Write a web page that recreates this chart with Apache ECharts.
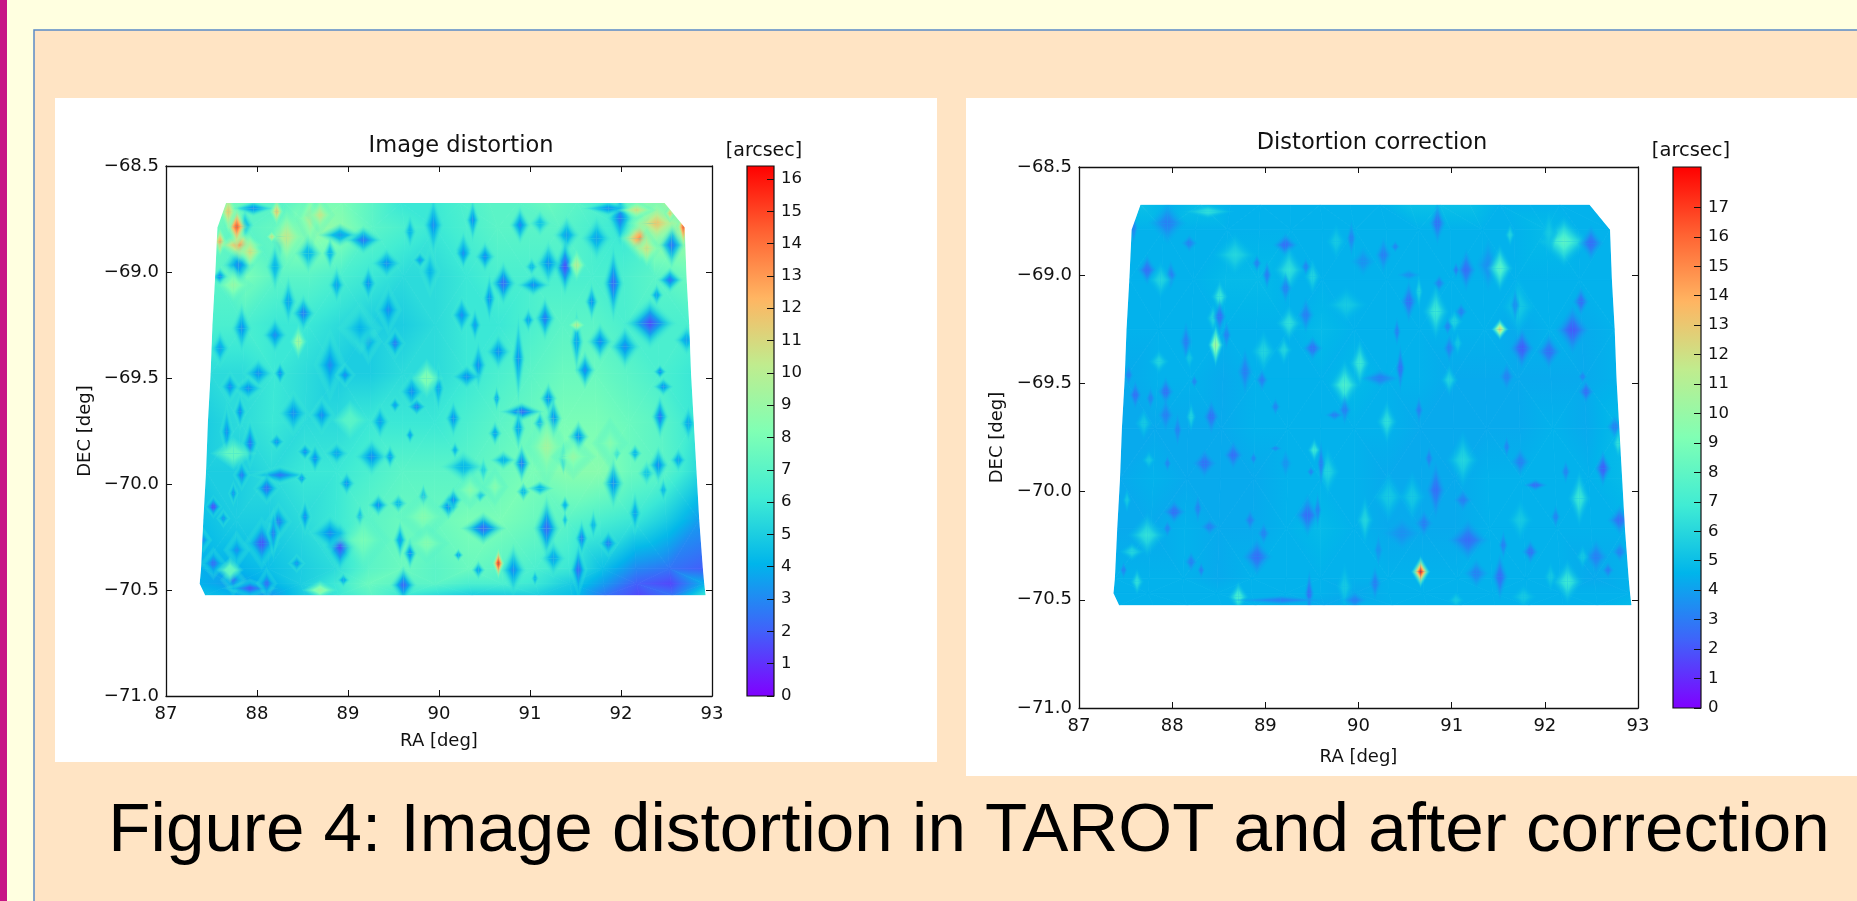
<!DOCTYPE html>
<html><head><meta charset="utf-8">
<style>html,body{margin:0;padding:0;background:#ffffe0;overflow:hidden}#c{width:1857px;height:901px;filter:blur(0.5px)}</style>
<script src="https://cdn.jsdelivr.net/npm/echarts@6/dist/echarts.min.js"></script>
</head><body><div id="c"></div>
<script>
const raTicks = [87, 88, 89, 90, 91, 92, 93];
const decRange = [-71, -68.5];
const barTicksLeft = [0,1,2,3,4,5,6,7,8,9,10,11,12,13,14,15,16];
const barTicksRight = [0,1,2,3,4,5,6,7,8,9,10,11,12,13,14,15,16,17];
const scaleMaxLeft = 16.4;
const scaleMaxRight = 18.37;
const rainbow = ['#8000ff','#4062fa','#00b5eb','#40ecd4','#80ffb4','#c0ec8e','#ffb562','#ff6232','#ff0000'];

// Field outline, row by row (deg)
const decRows = [-68.675,-68.79,-69.02,-69.25,-69.48,-69.71,-69.94,-70.17,-70.40,-70.47,-70.525];
const raLeft  = [87.66,87.565,87.54,87.51,87.49,87.46,87.44,87.41,87.385,87.37,87.43];
const raRight = [92.48,92.70,92.72,92.75,92.77,92.80,92.83,92.86,92.90,92.915,92.93];

// Large-scale background level of each field (arcsec)
const distortionBase = [
[8,7,7,8,8,7,6,6,6.5,7,7,7.5,7,6,8,9],
[7.5,7,7.5,9,8.5,7,6.5,6,6.5,7,7,7,6.5,6,9.5,9.5],
[7,8,7,7,6.5,6,5.5,5.5,6,6.5,6.5,6.5,6.5,6.5,7,7.5],
[6.5,6.5,6,6,5.5,5,5,5.5,6,6,6.5,7,7,6.5,6.5,6.5],
[5.5,5.5,6,5.5,5,5,5.5,5.5,6,6.5,7,7.5,7.5,7,6.5,6],
[5,5.5,6,5.5,5.5,6,6,6,6.5,7,7.5,8,8,7.5,7,6],
[5,5,5.5,6,6,6.5,7,7,7,7.5,8,8.5,8.5,7.5,7,5.5],
[4.5,5,5,5.5,6,7,7.5,7.5,8,8,7.5,7,6.5,6,5,3.5],
[4,4,4.5,5,5.5,7,7.5,7,7.5,7,6.5,6,4.5,3,2.5,2],
[4,3.5,4,5,6,7.5,7,7,6.5,6.5,6,5,3.5,2,1.5,4],
[4.5,4,3.5,5,6,7,6,5.5,5,5,5,4.5,2.5,1.5,2.5,6]
];
const correctionBase = [
[5,4.5,5,4.5,4.5,4.5,4.5,4.5,4.5,5,5,5,4.5,4.5,4.5,4.5],
[4.5,4.5,4.5,4.5,4.5,4.5,4.5,4.5,4.5,4.5,4.5,4.5,4.5,4.8,4.5,4.5],
[4.5,4.5,4.5,4.8,4.8,4.5,4.5,4.5,4.5,4.5,4.5,4.5,4.5,4.5,4.5,4.5],
[4.5,4.5,4.5,4.5,4.5,4.5,4.8,4.5,4.5,4.5,4.5,4.5,4.3,4.5,4.3,4.5],
[4.3,4.5,4.5,4.3,4.5,4.5,4.5,4.8,4.5,4.5,4.3,4.3,4.3,4.3,4.3,4.5],
[4.3,4.3,4.3,4.3,4.5,4.5,4.5,4.5,4.5,4.3,4.3,4.3,4.3,4.5,4.3,4.8],
[4.3,4.5,4.3,4.3,4.3,4.5,4.5,4.5,4.3,4.3,4.3,4.5,4.5,4.5,4.5,4.8],
[4.3,4.3,4.5,4.3,4.3,4.5,4.8,4.5,4.3,4.3,4.3,4.5,4.5,4.5,4.5,4.5],
[4.5,4.5,4.5,4.3,4.5,4.5,4.5,4.5,4.5,4.5,4.5,4.5,4.5,4.5,4.3,4.5],
[4.5,4.5,4.5,4.5,4.5,4.5,4.5,4.3,4.5,4.5,4.5,4.5,4.5,4.5,4.5,4.5],
[4.5,4.5,4.5,4.5,4.5,4.5,4.3,4.5,4.5,4.5,4.5,4.5,4.5,4.5,4.5,4.8]
];
const backgroundLeft = 6.5;
const backgroundRight = 4.5;

// Local features, one list per read-off tile: [u, v, arcsec, halfU, halfV]
// RA = raZero + u/raScale, DEC = decZero - v/decScale
const tileLeftNW = {raZero:87.374,decZero:-68.637,raScale:273,decScale:636};
const tileLeftNE = {raZero:90.121,decZero:-68.637,raScale:273,decScale:636};
const tileLeftSW = {raZero:87.264,decZero:-69.604,raScale:273,decScale:636};
const tileLeftSE = {raZero:90.121,decZero:-69.604,raScale:273,decScale:636};
const tileRightN = {raZero:87.333,decZero:-68.629,raScale:276,decScale:649};
const tileRightS = {raZero:87.279,decZero:-69.577,raScale:276,decScale:649};

const spotsLeftNW = [
[115,210,3,18,35],[60,245,3,10,15],[135,90,4,10,25],[160,40,3,25,12],[240,140,4,10,25],[225,215,4,10,40],[325,175,4,15,30],[420,120,3.5,25,18],[490,135,2.5,22,22],[390,175,4,8,25],[630,110,4,8,30],[560,205,3,18,25],[660,195,3.5,10,15],[700,90,3,12,50],[790,165,3,10,30],[505,265,3,10,30],[410,270,3.5,10,30],[265,320,3.5,10,40],[310,355,2.5,14,30],[565,345,3,15,40],[125,400,3,12,40],[225,420,3,15,30],[585,445,2.5,12,25],[505,440,3.5,15,35],[690,230,4,12,40],[785,360,3.5,12,30],[175,535,3,18,25],[240,535,3,8,20],[390,510,3,18,55],[435,540,3,12,20],[145,580,3,18,20],[60,460,3.5,12,30],[90,575,3,12,25],[635,590,3,15,30],[480,400,4,25,40],[715,580,3.5,8,40],
[295,440,9.5,9,22],[680,550,8.5,18,30],[100,270,9,22,30],[60,140,13,8,20],[120,150,13,25,22],[110,95,15,12,28],[85,50,12,10,30],[230,50,12,8,20],[260,125,10.5,22,40],[330,70,10,15,40],[360,60,10.5,15,25],[150,170,11,15,25],[215,125,11,6,8]
];
const spotsLeftNE = [
[68,75,3,8,35],[40,175,3,10,25],[105,185,3,12,25],[210,90,3,12,30],[270,85,4.5,12,20],[350,120,3.5,15,30],[440,130,3.5,18,35],[510,70,2.5,15,45],[475,40,3,30,12],[345,215,1.5,14,45],[295,205,3,15,35],[250,270,3,20,18],[245,215,4,8,15],[160,265,2,15,35],[118,310,3,8,40],[490,265,2,12,60],[425,320,3,8,30],[285,370,2.5,12,35],[235,375,3.5,8,20],[35,360,3,12,30],[75,390,3.5,8,30],[145,470,3,15,30],[205,490,3,8,70],[85,510,3,10,40],[50,545,3,18,20],[380,440,3.5,8,50],[405,525,3,12,30],[450,440,3,15,30],[525,455,3,18,35],[600,385,1.5,30,40],[660,255,2.5,15,20],[665,150,2.5,15,35],[620,300,3.5,8,18],[710,435,3.5,15,25],[630,530,3,8,12],[640,575,3,12,15],[140,610,3.5,5,20],[295,610,3,10,25],[595,85,4.5,10,10],
[570,130,13.5,22,30],[620,85,12,30,30],[660,55,12,6,12],[700,95,15,7,30],[380,210,10,10,22],[380,390,10,10,10],[560,45,11,20,12],[590,160,11,15,25]
];
const spotsLeftSW = [
[310,40,3,18,35],[395,45,3,15,30],[680,20,2.5,12,15],[615,15,3.5,8,15],[570,65,3.5,12,30],[110,95,3,8,45],[150,35,3,8,30],[260,125,3,10,15],[660,105,3.5,6,15],[180,130,2.5,10,40],[345,155,3,10,15],[440,160,3.5,15,20],[375,175,3,10,25],[545,170,3,20,30],[600,170,3.5,8,20],[155,225,2.5,10,25],[270,225,2.5,35,15],[230,265,2,15,25],[470,250,3,10,20],[335,235,3,7,12],[70,320,1,10,18],[130,280,3,6,20],[565,315,3,12,18],[625,310,4,10,15],[700,290,3.5,6,20],[775,320,3,12,20],[345,350,3,8,30],[265,365,2.5,15,30],[215,430,1.5,20,40],[250,400,2.5,8,40],[100,355,3,8,15],[140,450,3,15,30],[450,440,1.5,20,40],[510,350,3.5,6,20],[420,400,3,25,30],[660,460,3,8,25],[630,420,3.5,8,30],[70,490,2,15,25],[40,420,3,10,20],[320,490,3,10,15],[130,540,2.5,15,25],[180,565,1.5,30,15],[230,550,2,12,25],[640,555,2,15,30],[460,540,3.5,8,12],
[700,350,8.5,30,40],[710,430,8.5,25,30],[520,420,8,30,50],[390,570,9,20,15],[120,510,7.5,15,20],[130,160,7.5,25,25],[480,60,7,20,30]
];
const spotsLeftSE = [
[10,55,3,10,30],[215,35,2,25,15],[205,85,3.5,8,35],[135,100,3.5,8,20],[310,55,3,10,35],[270,70,3.5,8,20],[385,110,3,12,25],[630,50,2.5,10,35],[715,70,3.5,10,30],[215,190,2.5,10,30],[160,180,4,15,15],[340,175,4,6,25],[40,200,4,25,25],[100,210,5,6,20],[15,150,4,6,15],[555,160,4,8,15],[500,160,5,5,12],[625,195,3,12,30],[685,180,3.5,10,20],[490,250,3,12,40],[590,220,4.5,10,20],[640,270,4,6,20],[10,300,3,10,20],[90,285,4,8,12],[220,275,4,8,15],[270,265,4,15,12],[345,315,4,6,15],[555,340,3.5,8,35],[100,385,2,25,25],[290,385,2,15,50],[345,360,4.5,4,15],[395,415,2.5,8,30],[430,375,4,6,25],[475,430,2.5,12,22],[25,465,3.5,6,10],[85,510,3.5,8,15],[190,510,3,15,40],[310,475,3.5,15,30],[385,510,2,10,45],[255,535,4,5,15],
[60,270,8.5,20,30],[135,260,8.5,15,30],[290,140,9.5,22,50],[370,170,9,25,35],[480,130,8.5,20,40],[145,490,16,16,42]
];
const spotsRightN = [
[110,225,2.5,12,25],[170,85,3,22,35],[235,145,3,10,15],[180,240,3,8,25],[70,100,3,5,30],[290,50,6.5,30,12],[325,305,7,10,28],[313,450,11,8,28],[305,370,6,8,25],[325,365,2.5,8,28],[150,255,6,15,30],[370,180,6,25,35],[520,150,2.5,15,20],[435,205,3,6,15],[465,240,3,6,25],[530,225,6.5,18,40],[520,280,3,8,25],[600,245,6,10,30],[580,215,3,6,15],[580,360,3,10,30],[530,385,6.5,15,30],[600,460,2.5,12,20],[515,465,6,10,25],[455,470,6,15,35],[400,530,3,10,40],[450,555,3,8,20],[345,420,3,6,25],[225,440,3,8,35],[145,500,6,12,20],[165,590,2.5,10,25],[75,600,2.5,8,25],[120,610,3,6,20],[55,540,3,6,20],[235,490,5.5,6,18],[250,560,3,5,12],[715,130,3,6,30],[810,180,3,10,30],[845,155,3,6,10],[750,200,3.5,15,25],[670,140,5.5,12,30],[885,320,2.5,10,35],[850,410,3,5,25],[915,290,6,5,30],[965,350,7,15,45],[1020,380,6,10,20],[1005,460,3,8,25],[1030,445,5.5,6,20],[970,85,2.5,10,35],[1055,225,2.5,12,35],[975,265,3,8,15],[1025,225,3,5,15],[1120,210,3.5,15,45],[1155,220,8,15,38],[1155,403,13,9,14],[1220,460,2,15,35],[1300,470,2.5,15,30],[1370,405,2,20,40],[1395,320,2.5,10,25],[1345,140,8,30,40],[1425,145,2.5,15,30],[1185,120,6,6,20],[1210,335,5.5,20,50],[1200,330,3.5,6,30],[1410,590,2.5,10,20],[1400,545,3,6,12],[1005,555,6,10,25],[860,520,2.5,6,40],[800,550,3,25,15],[740,505,7,12,40],[695,570,7.5,18,40],[1175,545,3,10,25],[1040,350,3,8,15],[1000,395,3,6,15],[1300,115,5.5,10,40],[700,330,5.5,25,30],[885,240,3.5,15,10]
];
const spotsRightS = [
[180,45,3,10,30],[315,50,2.5,10,30],[215,90,3,6,30],[255,50,6,6,25],[115,70,5.5,10,25],[505,20,3,6,15],[710,30,3,8,25],[680,45,3,12,10],[835,65,6.5,12,35],[930,30,3,6,25],[1510,80,3,10,20],[1520,130,6.5,7,25],[380,165,2.5,12,25],[505,145,3,8,6],[620,150,7,8,20],[295,190,2.5,15,25],[130,180,5.5,8,15],[185,190,3,5,15],[440,175,3,5,12],[535,190,3.5,8,25],[660,215,6,14,40],[610,215,3,5,10],[640,190,3,5,40],[960,175,3,6,22],[1060,180,6,18,45],[1190,140,3,5,20],[1230,185,3,12,25],[1475,205,2,10,30],[1365,215,3,6,20],[1275,255,2.5,15,10],[980,270,2.5,12,50],[840,290,5.5,18,40],[910,290,5.5,15,40],[1060,300,3,12,20],[1405,295,7,13,45],[1335,350,3,6,20],[1230,360,5.5,15,35],[600,345,2.5,15,35],[630,330,3,5,30],[205,335,2.5,14,20],[430,360,3,8,20],[275,325,3,6,25],[310,380,3,12,15],[125,405,6.5,22,35],[185,385,3,6,15],[80,455,6,15,15],[65,300,5.5,5,20],[450,470,2.5,18,32],[470,400,3,8,20],[880,400,3.5,25,30],[945,370,3,12,25],[1075,420,2.5,25,35],[1180,435,3,6,25],[1260,455,2.5,10,20],[1170,530,2.5,10,40],[1370,545,7,18,35],[1455,470,3,15,30],[1525,455,3,10,18],[1490,510,3,8,15],[1525,360,2.5,15,25],[810,450,3.5,6,30],[255,485,3,8,18],[285,510,3,5,15],[55,510,3,5,15],[95,545,6.5,8,22],[395,590,7.5,12,25],[605,580,2.5,6,40],[520,600,3,60,8],[710,560,5.5,10,40],[740,600,3,15,15],[800,550,3,8,30],[1240,590,5.5,15,20],[1100,520,3,15,25],[1415,470,5.5,8,20],[770,360,6,10,40],[1040,600,5.5,10,15],[1320,530,5.5,8,25],[935,515,18.2,24,42]
];

function hexToRgb(h){return [parseInt(h.substr(1,2),16),parseInt(h.substr(3,2),16),parseInt(h.substr(5,2),16)];}
const rainbowRgb = rainbow.map(hexToRgb);
function colorAt(t,alpha){
  t=Math.max(0,Math.min(1,t));
  const p=t*(rainbow.length-1), i=Math.min(rainbow.length-2,Math.floor(p)), f=p-i;
  const a=rainbowRgb[i], b=rainbowRgb[i+1];
  const rgb=a.map((c,k)=>Math.round(c+(b[k]-c)*f)).join(',');
  return alpha===undefined?'rgb('+rgb+')':'rgba('+rgb+','+alpha+')';
}

function buildTriangles(values){
  const rows=[];
  const nc=values[0].length-1;
  const vtx=(r,c)=>[raLeft[r]+(raRight[r]-raLeft[r])*c/nc, decRows[r], values[r][c]];
  for(let r=0;r<values.length-1;r++){
    for(let c=0;c<nc;c++){
      const a=vtx(r,c),b=vtx(r,c+1),d=vtx(r+1,c),e=vtx(r+1,c+1);
      if((r+c)%2===0){rows.push([...a,...b,...e]);rows.push([...a,...e,...d]);}
      else{rows.push([...a,...b,...d]);rows.push([...b,...e,...d]);}
    }
  }
  return rows;
}
function meshRender(vmax){
  return function(params,api){
    const v=[0,3,6].map(k=>({p:api.coord([api.value(k),api.value(k+1)]),v:api.value(k+2)}));
    const [A,B,C]=v;
    const ux=B.p[0]-A.p[0],uy=B.p[1]-A.p[1],wx=C.p[0]-A.p[0],wy=C.p[1]-A.p[1];
    const du=B.v-A.v,dw=C.v-A.v,det=ux*wy-uy*wx;
    const lo=Math.min(A.v,B.v,C.v),hi=Math.max(A.v,B.v,C.v);
    let paint;
    if(hi-lo<1e-6||Math.abs(det)<1e-6){paint=colorAt(lo/vmax);}
    else{
      const gx=(du*wy-dw*uy)/det,gy=(dw*ux-du*wx)/det,g2=gx*gx+gy*gy;
      const s=v.find(o=>o.v===lo).p;
      const L=(hi-lo)/g2;
      const stops=[];
      const n=Math.max(2,Math.ceil((hi-lo)/vmax*16));
      for(let i=0;i<=n;i++){stops.push({offset:i/n,color:colorAt((lo+(hi-lo)*i/n)/vmax)});}
      paint=new echarts.graphic.LinearGradient(s[0],s[1],s[0]+gx*L,s[1]+gy*L,stops,true);
    }
    return {type:'polygon',shape:{points:v.map(o=>o.p)},style:{fill:paint,stroke:paint,lineWidth:0.8},silent:true};
  };
}
// The read-off half-sizes gave the dark core only; a feature's footprint is larger, and wider still.
function spotRows(tile,list){
  return list.map(s=>{
    const peak=s[2]>=15.5;
    const warm=s[2]>=9.5;
    const growU=peak?1.3:(warm?3.2:2.9);
    const growV=peak?1.25:(warm?2.6:2.1);
    return [tile.raZero+s[0]/tile.raScale, tile.decZero-s[1]/tile.decScale, s[2], growU*s[3]/tile.raScale, growV*s[4]/tile.decScale];
  });
}
function spotRender(vmax,base){
  return function(params,api){
    const ra=api.value(0),dec=api.value(1),val=api.value(2),hr=api.value(3),hd=api.value(4);
    const c=api.coord([ra,dec]);
    const ring=[api.coord([ra,dec+hd]),api.coord([ra+hr,dec]),api.coord([ra,dec-hd]),api.coord([ra-hr,dec])];
    const n=Math.max(3,Math.ceil(Math.abs(val-base)/vmax*16));
    const stops=[];
    for(let i=0;i<=n;i++){
      const t=i/n;
      stops.push({offset:t,color:colorAt((val+(base-val)*t)/vmax,Math.min(1,(1-t)*1.6))});
    }
    const children=[];
    for(let i=0;i<4;i++){
      const p=ring[i],q=ring[(i+1)%4];
      const dx=q[0]-p[0],dy=q[1]-p[1],u=((c[0]-p[0])*dx+(c[1]-p[1])*dy)/(dx*dx+dy*dy);
      const fx=p[0]+u*dx,fy=p[1]+u*dy;
      children.push({type:'polygon',shape:{points:[c,p,q]},silent:true,
        style:{fill:new echarts.graphic.LinearGradient(c[0],c[1],fx,fy,stops,true)}});
    }
    return {type:'group',children};
  };
}
function maskRender(params,api){
  const cs=params.coordSys;
  const outline=[];
  decRows.forEach((d,i)=>outline.push(api.coord([raLeft[i],d])));
  for(let i=decRows.length-1;i>=0;i--){outline.push(api.coord([raRight[i],decRows[i]]));}
  const first=outline[0];
  const x0=cs.x,y0=cs.y,x1=cs.x+cs.width,y1=cs.y+cs.height;
  const pts=[[first[0],y0],...outline,first,[first[0],y0],[x1,y0],[x1,y1],[x0,y1],[x0,y0]];
  return {type:'polygon',shape:{points:pts},style:{fill:'#ffffff'},silent:true};
}
function barRender(params,api){
  const p0=api.coord([0,0]),p1=api.coord([1,api.value(0)]);
  return {type:'rect',shape:{x:p0[0],y:p1[1],width:p1[0]-p0[0],height:p0[1]-p1[1]},
    style:{fill:new echarts.graphic.LinearGradient(0,1,0,0,rainbow.map((c,i)=>({offset:i/(rainbow.length-1),color:c}))),stroke:'#111',lineWidth:1.2},silent:true};
}

const FONT='"DejaVu Sans"';
const tick={show:true,inside:true,length:6,lineStyle:{color:'#111',width:1}};
const line={show:true,onZero:false,lineStyle:{color:'#111',width:1.3}};
const label={color:'#111',fontFamily:FONT,fontSize:18};
const minus=s=>String(s).replace('-','\u2212');

function mainAxes(gi,xGap,yGap){
  const x=[{gridIndex:gi,type:'value',min:raTicks[0],max:raTicks[raTicks.length-1],interval:1,position:'bottom',
      name:'RA [deg]',nameLocation:'middle',nameGap:xGap,nameTextStyle:{...label},
      axisLine:line,axisTick:tick,axisLabel:{...label,margin:9},splitLine:{show:false},z:5},
    {gridIndex:gi,type:'value',min:raTicks[0],max:raTicks[raTicks.length-1],interval:1,position:'top',
      axisLine:line,axisTick:tick,axisLabel:{show:false},splitLine:{show:false},z:5}];
  const y=[{gridIndex:gi,type:'value',min:decRange[0],max:decRange[1],interval:0.5,position:'left',
      name:'DEC [deg]',nameLocation:'middle',nameGap:yGap,nameTextStyle:{...label},
      axisLine:line,axisTick:tick,axisLabel:{...label,margin:7,formatter:v=>minus(v.toFixed(1))},splitLine:{show:false},z:5},
    {gridIndex:gi,type:'value',min:decRange[0],max:decRange[1],interval:0.5,position:'right',
      axisLine:line,axisTick:tick,axisLabel:{show:false},splitLine:{show:false},z:5}];
  return {x,y};
}
function barAxes(gi,vmax,ticks){
  return {
    x:{gridIndex:gi,type:'value',min:0,max:1,show:false},
    y:{gridIndex:gi,type:'value',min:0,max:vmax,position:'right',
      axisLine:{show:false,onZero:false},
      axisTick:{...tick,length:7,customValues:ticks},
      axisLabel:{...label,fontSize:16.5,margin:7,customValues:ticks},
      splitLine:{show:false},z:5}
  };
}
const mL=mainAxes(0,36,72),bL=barAxes(1,scaleMaxLeft,barTicksLeft),mR=mainAxes(2,40,73),bR=barAxes(3,scaleMaxRight,barTicksRight);

function ttl(text,x,y,size,extra){
  return {text,left:x,top:y,textAlign:'center',textVerticalAlign:'middle',padding:0,
    textStyle:Object.assign({color:'#111',fontFamily:FONT,fontSize:size,fontWeight:'normal'},extra||{})};
}
const bgRect=(x,y,w,h,fill,extra)=>({type:'rect',z:-10,silent:true,shape:{x,y,width:w,height:h},style:Object.assign({fill},extra||{})});
const fieldSeries=(ax,base,spots,vmax,bg)=>[
  {type:'custom',xAxisIndex:ax,yAxisIndex:ax,data:buildTriangles(base),renderItem:meshRender(vmax),encode:{x:0,y:1},progressive:0,clip:true,z:2},
  {type:'custom',xAxisIndex:ax,yAxisIndex:ax,data:spots,renderItem:spotRender(vmax,bg),encode:{x:0,y:1},progressive:0,clip:true,z:3},
  {type:'custom',xAxisIndex:ax,yAxisIndex:ax,data:[[raTicks[0],decRange[0]]],renderItem:maskRender,encode:{x:0,y:1},z:4}
];

const chart=echarts.init(document.getElementById('c'),null,{renderer:'canvas',width:1857,height:901});
chart.setOption({
  animation:false,
  backgroundColor:'#ffffe0',
  graphic:{elements:[
    bgRect(0,0,7,901,'#c71585'),
    bgRect(34,30,1900,950,'#ffe4c4',{stroke:'#5b8ac6',lineWidth:1.5}),
    bgRect(55,98,882,664,'#ffffff'),
    bgRect(966,98,900,678,'#ffffff')
  ]},
  title:[
    ttl('Image distortion',461,146,22.5),
    ttl('[arcsec]',764,151,19),
    ttl('Distortion correction',1372,143,22.5),
    ttl('[arcsec]',1691,151,19.5),
    {text:'Figure 4: Image distortion in TAROT and after correction',left:969,top:832,textAlign:'center',textVerticalAlign:'middle',padding:0,
     textStyle:{color:'#000',fontFamily:'"Liberation Sans"',fontSize:69.2,fontWeight:'normal'}}
  ],
  grid:[
    {left:166,top:166,width:546,height:530,show:false},
    {left:747,top:166,width:27,height:530,show:false},
    {left:1079,top:167,width:559,height:541,show:false},
    {left:1673,top:167,width:28,height:541,show:false}
  ],
  xAxis:[...mL.x,bL.x,...mR.x,bR.x],
  yAxis:[...mL.y,bL.y,...mR.y,bR.y],
  series:[
    ...fieldSeries(0,distortionBase,[...spotRows(tileLeftNW,spotsLeftNW),...spotRows(tileLeftNE,spotsLeftNE),...spotRows(tileLeftSW,spotsLeftSW),...spotRows(tileLeftSE,spotsLeftSE)],scaleMaxLeft,backgroundLeft),
    {type:'custom',xAxisIndex:2,yAxisIndex:2,data:[[scaleMaxLeft]],renderItem:barRender,encode:{y:0},z:2},
    ...fieldSeries(3,correctionBase,[...spotRows(tileRightN,spotsRightN),...spotRows(tileRightS,spotsRightS)],scaleMaxRight,backgroundRight),
    {type:'custom',xAxisIndex:5,yAxisIndex:5,data:[[scaleMaxRight]],renderItem:barRender,encode:{y:0},z:2}
  ]
});
</script></body></html>
